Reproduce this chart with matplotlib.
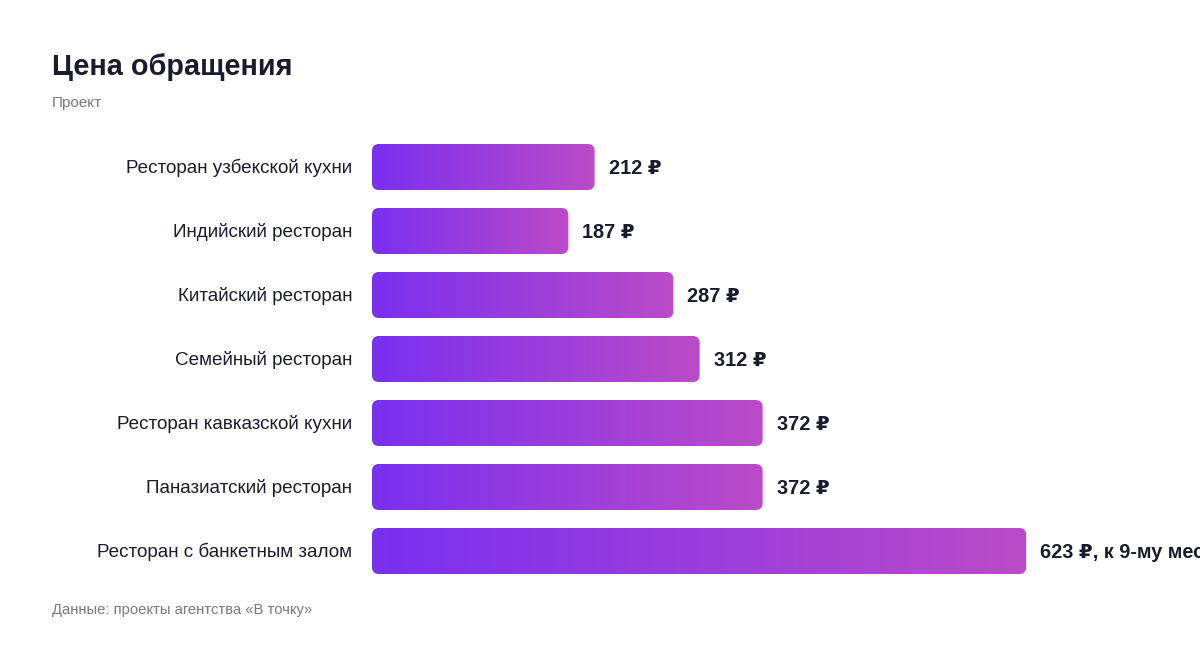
import numpy as np
import matplotlib.pyplot as plt
from matplotlib.colors import LinearSegmentedColormap
from matplotlib.patches import FancyBboxPatch

categories = [
    "Ресторан узбекской кухни",
    "Индийский ресторан",
    "Китайский ресторан",
    "Семейный ресторан",
    "Ресторан кавказской кухни",
    "Паназиатский ресторан",
    "Ресторан с банкетным залом",
]
values = [212, 187, 287, 312, 372, 372, 623]
value_labels = ["212 ₽", "187 ₽", "287 ₽", "312 ₽", "372 ₽", "372 ₽",
                "623 ₽, к 9-му месяцу"]

FONT = ["Liberation Sans", "DejaVu Sans"]
DARK = "#1b1b2f"
GREY = "#77778a"

plt.rcParams["font.family"] = FONT

W, H = 1200, 648
fig = plt.figure(figsize=(W / 100, H / 100), dpi=100)
fig.patch.set_facecolor("white")

# axes: x from 372px to right edge, 7 rows of 64px starting at y=135px
left, top, row = 372, 135, 64
ax = fig.add_axes([left / W, 1 - (top + row * len(values)) / H,
                   (W - left) / W, row * len(values) / H])
px_per_unit = 1.05
xmax = (W - left) / px_per_unit
ax.axis("off")

cmap = LinearSegmentedColormap.from_list("bar", ["#7a2ff0", "#bb4bc8"])
grad = np.linspace(0, 1, 256).reshape(1, -1)
bar_h = 46 / row
radius_px = 7
aspect = (1 / row) / (1 / px_per_unit)

for i, (v, lab) in enumerate(zip(values, value_labels)):
    y0 = i - bar_h / 2
    patch = FancyBboxPatch((0, y0), v, bar_h,
                           boxstyle=f"round,pad=0,rounding_size={radius_px / px_per_unit}",
                           mutation_aspect=aspect, facecolor="none",
                           edgecolor="none")
    ax.add_patch(patch)
    im = ax.imshow(grad, cmap=cmap, aspect="auto",
                   extent=(0, v, y0 + bar_h, y0), interpolation="bilinear")
    im.set_clip_path(patch)
    ax.annotate(lab, (v, i + 0.02), xytext=(14, 0), textcoords="offset pixels",
                va="center", ha="left", fontsize=14.3, fontweight="bold",
                color=DARK, annotation_clip=False)
    ax.annotate(categories[i], (0, i + 0.02), xytext=(-20, 0),
                textcoords="offset pixels", va="center", ha="right",
                fontsize=13.6, color=DARK, annotation_clip=False)

ax.set_xlim(0, xmax)
ax.set_ylim(len(values) - 0.5, -0.5)

fig.text(52 / W, 1 - 67 / H, "Цена обращения", fontsize=20.8,
         fontweight="bold", color=DARK, va="center", ha="left")
fig.text(52 / W, 1 - 103 / H, "Проект", fontsize=11, color=GREY,
         va="center", ha="left")
fig.text(52 / W, 1 - 610 / H, "Данные: проекты агентства «В точку»",
         fontsize=10.6, color=GREY, va="center", ha="left")

fig.savefig("out.png", dpi=100, facecolor="white")
